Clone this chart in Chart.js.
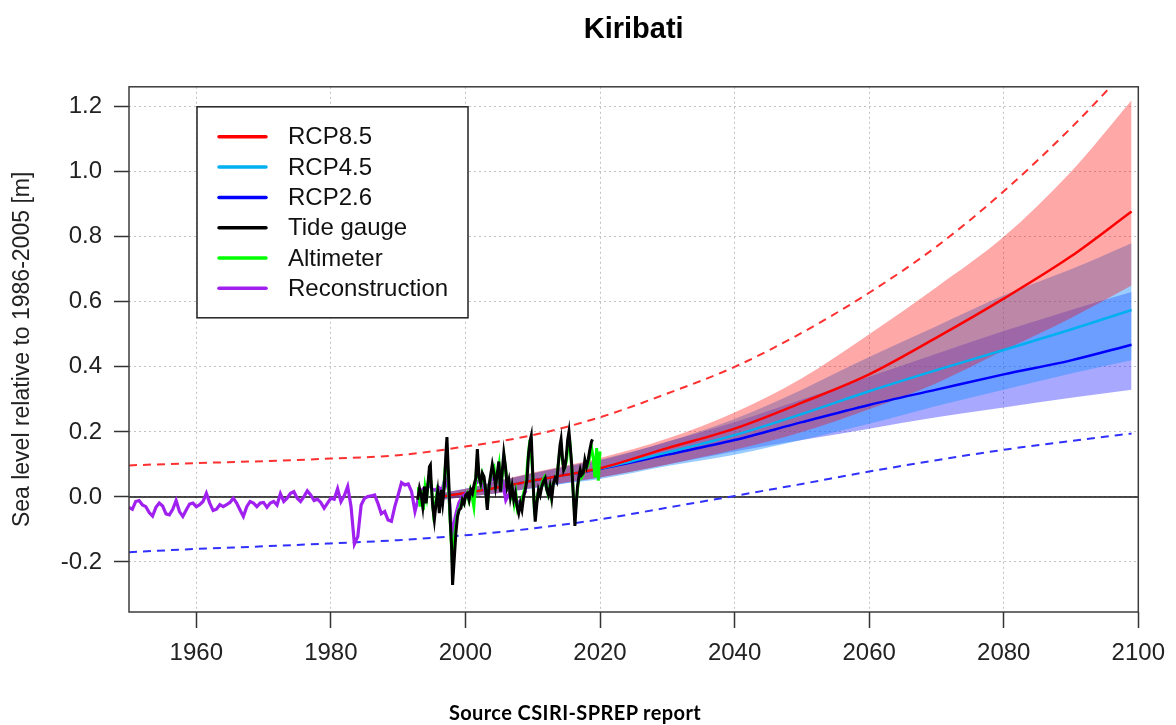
<!DOCTYPE html>
<html>
<head>
<meta charset="utf-8">
<title>Kiribati sea level</title>
<script src="https://cdn.jsdelivr.net/npm/chart.js@4.4.1/dist/chart.umd.min.js"></script>
<style>
  html, body { margin: 0; padding: 0; background: #fff; }
  #wrap { position: relative; width: 1176px; height: 725px; }
  #source {
    position: absolute; left: 0; top: 700px; width: 1150px;
    text-align: center; font: bold 20px Lato, "Open Sans", sans-serif;
    letter-spacing: 0.4px; color: #000;
  }
</style>
</head>
<body>
<div id="wrap">
  <canvas id="slr-chart" width="1176" height="725"></canvas>
  <div id="source">Source CSIRI-SPREP report</div>
</div>
<script>
// Axis ticks
const xTicks = [1960, 1980, 2000, 2020, 2040, 2060, 2080, 2100];
const yTicks = [-0.2, 0, 0.2, 0.4, 0.6, 0.8, 1.0, 1.2];

// Reconstruction, half-yearly from 1950 (m)
const reconStart = 1950;
const reconStep = 0.5;
const reconLevels = [
  -0.032, -0.038, -0.014, -0.011, -0.025, -0.030, -0.048, -0.059, -0.032, -0.019,
  -0.028, -0.052, -0.055, -0.038, -0.011, -0.045, -0.060, -0.040, -0.022, -0.019,
  -0.030, -0.024, -0.014, 0.011, -0.019, -0.042, -0.038, -0.024, -0.030, -0.024,
  -0.017, -0.004, -0.019, -0.040, -0.060, -0.030, -0.014, -0.019, -0.030, -0.019,
  -0.017, -0.032, -0.019, -0.014, -0.025, 0.010, -0.014, -0.004, 0.011, 0.016,
  -0.004, -0.014, 0.001, 0.019, 0.006, -0.011, -0.007, -0.017, -0.035, -0.019,
  -0.004, -0.007, 0.025, -0.015, 0.004, 0.032, -0.030, -0.145, -0.122, -0.025,
  -0.004, 0.001, 0.003, 0.006, -0.020, -0.052, -0.045, -0.071, -0.075, -0.030,
  0.006, 0.044, 0.037, 0.040, 0.016, -0.045, -0.004, 0.020, 0.030, 0.040,
  0.025, 0.020, 0.030, 0.020, 0.060, 0.020, -0.120, -0.060, -0.020, 0.000,
  0.010, 0.000, 0.020, 0.040, 0.050, 0.050, 0.010, 0.030, 0.060, 0.050,
  0.060, 0.050, -0.010, 0.010, 0.000, -0.010, -0.020, 0.000, 0.020
];

// Altimeter, quarterly from 1993 (m)
const altimeterStart = 1993;
const altimeterStep = 0.25;
const altimeterLevels = [
  0.03, -0.03, 0.02, -0.04,   0.03, 0.00, 0.05, 0.07,   0.02, -0.05, -0.03, 0.01,
  -0.02, 0.00, -0.01, 0.02,   0.09, 0.14, 0.03, -0.08,  -0.18, -0.15, -0.10, -0.06,
  -0.04, -0.03, -0.01, -0.02, 0.00, 0.01, -0.01, 0.02,  0.00, -0.03, 0.04, 0.12,
  0.06, 0.04, 0.07, 0.05,     0.02, -0.03, 0.03, 0.06,  0.08, 0.09, 0.04, 0.07,
  0.10, 0.02, 0.07, 0.12,     0.08, 0.03, 0.04, 0.00,   0.02, -0.02, 0.01, -0.04,
  -0.03, -0.02, 0.00, 0.02,   0.04, 0.11, 0.16, 0.15,   0.07, -0.04, -0.03, 0.01,
  0.01, 0.03, 0.05, 0.06,     0.03, 0.01, 0.03, 0.00,   0.04, 0.05, 0.05, 0.09,
  0.14, 0.15, 0.10, 0.09,     0.11, 0.16, 0.17, 0.10,   0.02, -0.06, -0.01, 0.04,
  0.07, 0.06, 0.07, 0.10,     0.09, 0.10, 0.13, 0.15,   0.12, 0.06, 0.15, 0.05,
  0.14
];

// Tide gauge (year, m)
const gaugeYears = [
  1992.9, 1993.17, 1993.42, 1993.66, 1993.91, 1994.15, 1994.4, 1994.65, 1994.79, 1994.89,
  1995.14, 1995.38, 1995.63, 1995.87, 1996.12, 1996.37, 1996.61, 1996.86, 1997.1, 1997.25,
  1997.45, 1997.6, 1997.74, 1997.94, 1998.09, 1998.33, 1998.58, 1998.82, 1999.07, 1999.32,
  1999.56, 1999.81, 2000.05, 2000.3, 2000.55, 2000.79, 2001.04, 2001.28, 2001.53, 2001.77,
  2002.02, 2002.27, 2002.51, 2002.76, 2003.0, 2003.25, 2003.5, 2003.74, 2003.99, 2004.23,
  2004.47, 2004.72, 2004.96, 2005.21, 2005.45, 2005.7, 2005.95, 2006.19, 2006.44, 2006.68,
  2006.93, 2007.18, 2007.42, 2007.67, 2007.91, 2008.16, 2008.4, 2008.65, 2008.9, 2009.14,
  2009.39, 2009.63, 2009.78, 2009.98, 2010.17, 2010.37, 2010.62, 2010.86, 2011.11, 2011.35,
  2011.6, 2011.85, 2012.09, 2012.34, 2012.58, 2012.83, 2013.08, 2013.32, 2013.57, 2013.81,
  2014.06, 2014.21, 2014.4, 2014.6, 2014.8, 2014.99, 2015.19, 2015.39, 2015.58, 2015.78,
  2016.02, 2016.27, 2016.47, 2016.66, 2016.86, 2017.06, 2017.25, 2017.5, 2017.75, 2017.99,
  2018.24, 2018.48, 2018.73, 2018.88
];
const gaugeLevels = [
  -0.009, 0.027, 0.006, -0.030, 0.032, -0.020, 0.032, 0.093, 0.098, 0.052,
  -0.030, -0.071, -0.020, 0.016, -0.050, 0.022, -0.020, 0.032, 0.134, 0.184,
  0.083, 0.011, -0.071, -0.153, -0.271, -0.194, -0.112, -0.060, -0.040, -0.035,
  -0.009, -0.020, 0.006, 0.011, -0.009, 0.022, 0.011, 0.037, 0.057, 0.147,
  0.062, 0.042, 0.073, 0.062, 0.022, -0.040, 0.032, 0.067, 0.100, 0.073,
  0.032, 0.070, 0.109, 0.016, 0.073, 0.134, 0.093, 0.032, 0.052, 0.001,
  0.032, -0.009, 0.011, -0.030, -0.050, -0.020, -0.040, 0.001, 0.022, 0.052,
  0.134, 0.175, 0.188, 0.083, -0.009, -0.076, -0.020, 0.022, 0.006, 0.032,
  0.047, 0.057, 0.022, 0.006, 0.032, -0.004, 0.042, 0.057, 0.047, 0.103,
  0.160, 0.177, 0.124, 0.083, 0.093, 0.124, 0.175, 0.201, 0.155, 0.103,
  0.011, -0.089, -0.020, 0.032, 0.062, 0.083, 0.067, 0.073, 0.114, 0.093,
  0.114, 0.144, 0.170, 0.177
];

// Projections: medians and 5-95% ranges (m)
const projYears = [1996, 2000, 2005, 2010, 2015, 2020, 2030, 2040, 2050, 2060, 2070, 2080, 2090, 2099];
const rcp85Mid  = [0.0, 0.012, 0.03, 0.05, 0.068, 0.088, 0.15, 0.21, 0.29, 0.377, 0.49, 0.61, 0.74, 0.878];
const rcp85High = [0.01, 0.025, 0.05, 0.075, 0.097, 0.12, 0.18, 0.26, 0.365, 0.50, 0.645, 0.80, 1.0, 1.22];
const rcp85Low  = [-0.01, 0.0, 0.012, 0.028, 0.045, 0.06, 0.10, 0.145, 0.20, 0.27, 0.35, 0.45, 0.55, 0.65];
const rcp45Mid  = [0.0, 0.012, 0.03, 0.05, 0.068, 0.087, 0.137, 0.19, 0.255, 0.325, 0.39, 0.452, 0.515, 0.575];
const rcp45High = [0.01, 0.025, 0.05, 0.073, 0.095, 0.115, 0.17, 0.24, 0.33, 0.43, 0.525, 0.62, 0.70, 0.78];
const rcp45Low  = [-0.01, 0.0, 0.012, 0.027, 0.042, 0.055, 0.095, 0.13, 0.175, 0.225, 0.28, 0.33, 0.38, 0.42];
const rcp26Mid  = [0.0, 0.012, 0.03, 0.05, 0.068, 0.086, 0.13, 0.175, 0.23, 0.283, 0.33, 0.377, 0.42, 0.468];
const rcp26High = [0.01, 0.025, 0.05, 0.072, 0.093, 0.112, 0.17, 0.23, 0.30, 0.37, 0.44, 0.51, 0.575, 0.63];
const rcp26Low  = [-0.01, 0.0, 0.012, 0.027, 0.043, 0.06, 0.10, 0.14, 0.175, 0.21, 0.245, 0.275, 0.305, 0.33];

// Outer envelope (dashed)
const envelopeYears = [1950, 1960, 1970, 1980, 1990, 2000, 2010, 2020, 2030, 2040, 2050, 2060, 2070, 2080, 2090, 2099];
const envelopeHigh = [0.097, 0.104, 0.110, 0.118, 0.128, 0.155, 0.19, 0.245, 0.318, 0.40, 0.505, 0.628, 0.77, 0.94, 1.135, 1.33];
const envelopeLow = [-0.170, -0.160, -0.152, -0.143, -0.133, -0.118, -0.097, -0.069, -0.033, 0.003, 0.04, 0.078, 0.113, 0.145, 0.172, 0.195];

const xMin = 1950, xMax = 2100;
const yMin = -0.354, yMax = 1.2615;

const pts = (xs, ys) => ys.map((y, i) => ({ x: xs[i], y }));
const evenPts = (start, step, ys) => ys.map((y, i) => ({ x: start + i * step, y }));

Chart.defaults.font.family = "'Liberation Sans', Arial, sans-serif";
Chart.defaults.color = "#222";

const smooth = { cubicInterpolationMode: "monotone", pointRadius: 0 };
const band = (label, ys, fill, color) => ({
  label, data: pts(projYears, ys), borderWidth: 0, borderColor: "transparent",
  backgroundColor: color, fill, ...smooth,
});

const datasets = [
  { label: "Tide gauge", data: pts(gaugeYears, gaugeLevels), borderColor: "#000000", borderWidth: 3, pointRadius: 0 },
  { label: "Altimeter", data: evenPts(altimeterStart, altimeterStep, altimeterLevels), borderColor: "#00ff00", borderWidth: 3, pointRadius: 0 },
  { label: "Reconstruction", data: evenPts(reconStart, reconStep, reconLevels), borderColor: "#a020f0", borderWidth: 3.2, pointRadius: 0 },
  { label: "RCP8.5", data: pts(projYears, rcp85Mid), borderColor: "#ff0000", borderWidth: 2.5, ...smooth },
  { label: "RCP4.5", data: pts(projYears, rcp45Mid), borderColor: "#00b0f0", borderWidth: 2.5, ...smooth },
  { label: "RCP2.6", data: pts(projYears, rcp26Mid), borderColor: "#0000ff", borderWidth: 2.5, ...smooth },
  { label: "upper", data: pts(envelopeYears, envelopeHigh), borderColor: "#ff3030", borderWidth: 2, borderDash: [8, 6], ...smooth },
  { label: "lower", data: pts(envelopeYears, envelopeLow), borderColor: "#3030ff", borderWidth: 2, borderDash: [8, 6], ...smooth },
  band("RCP8.5 high", rcp85High, "+1", "rgba(255, 0, 0, 0.34)"),
  band("RCP8.5 low", rcp85Low, false, "transparent"),
  band("RCP4.5 high", rcp45High, "+1", "rgba(30, 144, 255, 0.45)"),
  band("RCP4.5 low", rcp45Low, false, "transparent"),
  band("RCP2.6 high", rcp26High, "+1", "rgba(0, 0, 255, 0.34)"),
  band("RCP2.6 low", rcp26Low, false, "transparent"),
  { label: "zero", data: [{ x: xMin, y: 0 }, { x: xMax, y: 0 }], borderColor: "#111111", borderWidth: 1.5, pointRadius: 0 },
];

const legendLabels = ["RCP8.5", "RCP4.5", "RCP2.6", "Tide gauge", "Altimeter", "Reconstruction"];

// box around the plotting region
const framePlugin = {
  id: "frame",
  afterDatasetsDraw(chart) {
    const { ctx, chartArea: a } = chart;
    ctx.save();
    ctx.strokeStyle = "#3c3c3c";
    ctx.lineWidth = 1.5;
    ctx.strokeRect(a.left, a.top, a.right - a.left, a.bottom - a.top);
    ctx.restore();
  },
};

// boxed legend in the upper-left corner of the plot
const boxLegendPlugin = {
  id: "boxLegend",
  afterDatasetsDraw(chart) {
    const { ctx, chartArea: a } = chart;
    const left = a.left + 68, top = a.top + 20, w = 271, h = 211;
    ctx.save();
    ctx.fillStyle = "#fff";
    ctx.fillRect(left, top, w, h);
    ctx.strokeStyle = "#222";
    ctx.lineWidth = 1.5;
    ctx.strokeRect(left, top, w, h);
    ctx.font = "24px 'Liberation Sans', Arial, sans-serif";
    ctx.textBaseline = "middle";
    ctx.lineCap = "round";
    legendLabels.forEach((label, i) => {
      const ds = chart.data.datasets.find((d) => d.label === label);
      const y = top + 30 + i * 30.3;
      ctx.strokeStyle = ds.borderColor;
      ctx.lineWidth = 3.5;
      ctx.beginPath();
      ctx.moveTo(left + 22, y);
      ctx.lineTo(left + 69, y);
      ctx.stroke();
      ctx.fillStyle = "#111";
      ctx.fillText(label, left + 91, y + 1);
    });
    ctx.restore();
  },
};

new Chart(document.getElementById("slr-chart"), {
  type: "line",
  data: { datasets },
  plugins: [framePlugin, boxLegendPlugin],
  options: {
    responsive: false,
    animation: false,
    devicePixelRatio: 1,
    layout: { padding: { left: 0, right: 30, top: 0, bottom: 0 } },
    plugins: {
      legend: { display: false },
      tooltip: { enabled: false },
      title: {
        display: true,
        text: "Kiribati",
        fullSize: false,
        color: "#000",
        font: { size: 29, weight: "bold" },
        padding: { top: 13, bottom: 39 },
      },
    },
    scales: {
      x: {
        type: "linear",
        min: xMin,
        max: xMax,
        afterBuildTicks: (s) => { s.ticks = xTicks.map((v) => ({ value: v })); },
        afterFit: (s) => { s.height = 113; },
        ticks: {
          autoSkip: false, maxRotation: 0, padding: 11,
          font: { size: 24 }, color: "#222",
          callback: (v) => String(v),
        },
        grid: { color: "#c2c2c2", lineWidth: 1, tickLength: 16, tickColor: "#333", tickWidth: 1.5 },
        border: { display: false, dash: [2, 3] },
      },
      y: {
        type: "linear",
        min: yMin,
        max: yMax,
        afterBuildTicks: (s) => { s.ticks = yTicks.map((v) => ({ value: v })); },
        afterFit: (s) => { s.width = 129; },
        ticks: {
          padding: 12,
          font: { size: 24 }, color: "#222",
          callback: (v) => v.toFixed(1),
        },
        title: {
          display: true,
          text: "Sea level relative to 1986-2005 [m]",
          color: "#222",
          font: { size: 23 },
          padding: { top: 9, bottom: 0 },
        },
        grid: { color: "#c2c2c2", lineWidth: 1, tickLength: 15, tickColor: "#333", tickWidth: 1.5 },
        border: { display: false, dash: [2, 3] },
      },
    },
  },
});
</script>
</body>
</html>
